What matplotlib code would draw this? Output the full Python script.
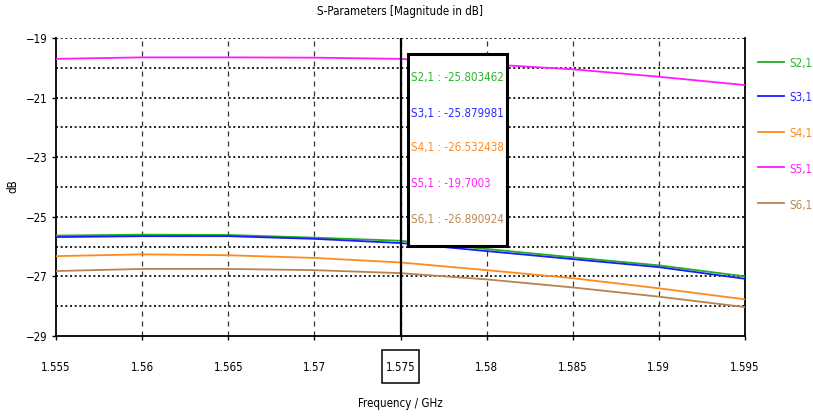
import os
import matplotlib
matplotlib.use("Agg")
import matplotlib.pyplot as plt
from matplotlib import font_manager as fm
from matplotlib.font_manager import FontProperties
from matplotlib.patches import Rectangle

# Frequency sweep (GHz) and S-parameter magnitudes (dB)
freq = [1.555, 1.560, 1.565, 1.570, 1.575, 1.580, 1.585, 1.590, 1.595]
s21 = [-25.63, -25.60, -25.61, -25.70, -25.803462, -26.08, -26.36, -26.63, -27.00]
s31 = [-25.68, -25.65, -25.65, -25.74, -25.879981, -26.15, -26.42, -26.69, -27.08]
s41 = [-26.32, -26.26, -26.29, -26.38, -26.532438, -26.79, -27.06, -27.40, -27.77]
s51 = [-19.70, -19.65, -19.65, -19.66, -19.7003, -19.88, -20.05, -20.30, -20.58]
s61 = [-26.82, -26.75, -26.75, -26.79, -26.890924, -27.10, -27.37, -27.68, -28.03]

names = ["S2,1", "S3,1", "S4,1", "S5,1", "S6,1"]
series = [s21, s31, s41, s51, s61]
line_colors = ["#1fae1f", "#1a1aff", "#ff8a1a", "#ff1aff", "#b98250"]
text_colors = ["#2fb52f", "#2a2aff", "#ff8c22", "#ff22ff", "#bb8a55"]

marker_freq = 1.575
xticks = [1.555, 1.56, 1.565, 1.57, 1.575, 1.58, 1.585, 1.59, 1.595]
xtick_labels = ["1.555", "1.56", "1.565", "1.57", "1.575", "1.58", "1.585", "1.59", "1.595"]
yticks = [-29, -27, -25, -23, -21, -19]


def pick_font():
    """Prefer a narrow sans face; fall back to Liberation Sans."""
    best, best_score = None, None
    for f in fm.fontManager.ttflist:
        nm = f.name.lower()
        fn = os.path.basename(f.fname).lower()
        narrow = (str(f.stretch) in ("condensed", "semi-condensed", "extra-condensed")
                  or "condensed" in nm or "narrow" in nm
                  or "condensed" in fn or "narrow" in fn)
        if not narrow or f.style != "normal":
            continue
        if not fn.endswith((".ttf", ".otf")):
            continue
        w = f.weight if isinstance(f.weight, int) else fm.weight_dict.get(str(f.weight), 400)
        score = abs(w - 400)
        score += 300 * ("bold" in fn) + 120 * ("light" in fn) + 250 * ("extra" in fn)
        score += 40 * ("semi" in fn) + 1000 * ("italic" in fn or "oblique" in fn)
        score += 60 * ("mono" in nm) + 500 * ("serif" in nm and "sans" not in nm)
        if best_score is None or score < best_score:
            best, best_score = f.fname, score
    if best is None:
        best = fm.findfont(FontProperties(family="Liberation Sans"))
    return best


FONT = pick_font()

W, H = 813, 416
fig = plt.figure(figsize=(W / 100, H / 100), dpi=100)
renderer = fig.canvas.get_renderer()

# choose a font size whose readout line just fits the readout box
probe = fig.text(0, 0, "S2,1 : -25.803462", fontproperties=FontProperties(fname=FONT, size=10))
pw = probe.get_window_extent(renderer).width
probe.remove()
FS = min(13.0, 10 * 93.0 / pw)


def fprop():
    return FontProperties(fname=FONT, size=FS)


def px(x, y):
    """Figure fraction from pixel position measured from the top-left."""
    return x / W, 1 - y / H


L, R, T, B = 56, 745, 38, 336
ax = fig.add_axes([L / W, 1 - B / H, (R - L) / W, (B - T) / H])
ax.set_xlim(1.555, 1.595)
ax.set_ylim(-29, -19)

# grid: dotted horizontals every dB, dashed verticals at x ticks
for yv in range(-28, -18):
    ax.axhline(yv, color="black", lw=1.2, ls=(0, (1.2, 1.6)), zorder=1)
for xv in xticks[1:-1]:
    ax.axvline(xv, color="#333333", lw=0.9, ls=(0, (4, 4)), zorder=1)

for vals, c in zip(series, line_colors):
    ax.plot(freq, vals, color=c, lw=1.3, zorder=3)

ax.axvline(marker_freq, color="black", lw=1.6, zorder=4)

for s in ["left", "bottom", "right"]:
    ax.spines[s].set_linewidth(1.3)
ax.spines["top"].set_visible(False)

# x tick labels centred near y = 367 px
probe = fig.text(0, 0, "1.555", fontproperties=fprop())
lh = probe.get_window_extent(renderer).height
probe.remove()
xpad_px = max(2.0, 367 - lh / 2 - B - 4)

ax.set_xticks(xticks)
ax.set_xticklabels(xtick_labels)
ax.set_yticks(yticks)
ax.tick_params(axis="both", direction="out", length=3, width=1)
ax.tick_params(axis="y", pad=3)
ax.tick_params(axis="x", pad=xpad_px * 0.72)
for lab in ax.get_xticklabels() + ax.get_yticklabels():
    lab.set_fontproperties(fprop())

# frame around the marker frequency label
x0, y0 = px(382, 383)
x1, y1 = px(419, 350)
fig.add_artist(Rectangle((x0, y0), x1 - x0, y1 - y0, transform=fig.transFigure,
                         facecolor="none", edgecolor="black", lw=1.1))

fig.text(*px(400, 12), "S-Parameters [Magnitude in dB]", ha="center", va="center",
         fontproperties=fprop())
fig.text(*px(400, 403), "Frequency / GHz", ha="center", va="center", fontproperties=fprop())
fig.text(*px(13, 186), "dB", ha="center", va="center", rotation=90, fontproperties=fprop())

# value readout box at the marker
bx0, bx1, by0, by1 = 408, 507, 54, 246
box = fig.add_axes([bx0 / W, 1 - by1 / H, (bx1 - bx0) / W, (by1 - by0) / H])
box.set_xticks([]); box.set_yticks([])
box.set_facecolor("white")
for s in box.spines.values():
    s.set_linewidth(2.2)
row_y = [78, 113, 148, 183, 219]
for nm, vals, tc, ry in zip(names, series, text_colors, row_y):
    v = vals[freq.index(marker_freq)]
    txt = f"{v:.6f}".rstrip("0") if nm == "S5,1" else f"{v:.6f}"
    fig.text(*px(411, ry), f"{nm} : {txt}", color=tc, ha="left", va="center",
             fontproperties=fprop())

# legend on the right
leg_y = [62, 96, 132, 167, 203]
for nm, lc, tc, ly in zip(names, line_colors, text_colors, leg_y):
    fig.add_artist(plt.Line2D([758 / W, 784 / W], [1 - ly / H, 1 - ly / H], color=lc, lw=1.3))
    fig.text(*px(789, ly + 2), nm, color=tc, ha="left", va="center", fontproperties=fprop())

fig.savefig("out.png", dpi=100)
